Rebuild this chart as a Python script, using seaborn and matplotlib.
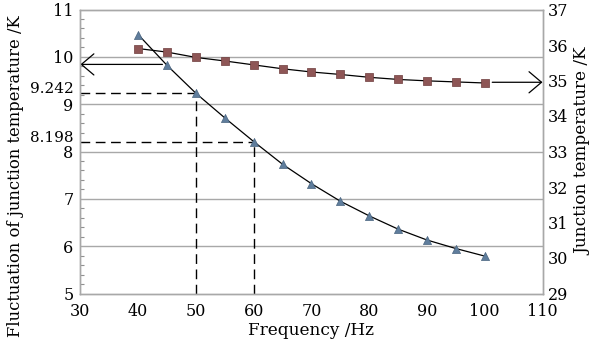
import numpy as np
import pandas as pd
import matplotlib
matplotlib.use("Agg")
import matplotlib.pyplot as plt
import seaborn as sns

freq = [40, 45, 50, 55, 60, 65, 70, 75, 80, 85, 90, 95, 100]
fluct = [10.47, 9.82, 9.23, 8.71, 8.21, 7.73, 7.32, 6.95, 6.64, 6.36, 6.13, 5.95, 5.79]
junction = [35.90, 35.80, 35.65, 35.55, 35.44, 35.33, 35.24, 35.17, 35.09, 35.03, 34.99, 34.96, 34.93]
left_ticks = [5, 6, 7, 8, 9, 10, 11]
right_ticks = [29, 30, 31, 32, 33, 34, 35, 36, 37]
x_ticks = [30, 40, 50, 60, 70, 80, 90, 100, 110]
marks_f = [50, 60]
marks_v = [9.242, 8.198]
mark_labels = ["9.242", "8.198"]

sns.set_theme(style="white")
plt.rcParams['font.family'] = ['DejaVu Serif']
plt.rcParams['mathtext.fontset'] = 'dejavuserif'

df = pd.DataFrame({"freq": freq, "fluct": fluct, "junction": junction})

fig = plt.figure(figsize=(6.09, 3.49), dpi=100)
ax = fig.add_axes([80.4/609, 1-293.5/349, (542.5-80.4)/609, (293.5-9.5)/349])
ax2 = ax.twinx()

grid_c = "#a8a8a8"
tri_c = "#5f7d9c"
sq_c = "#8e5656"

ax.set_xlim(30, 110)
ax.set_ylim(5, 11)
ax2.set_ylim(29, 37)

for v in [6, 7, 8, 9, 10]:
    ax.axhline(v, color=grid_c, lw=1.0, zorder=0)

# dashed guide lines
for f, v in zip(marks_f, marks_v):
    ax.plot([30, f], [v, v], color="black", lw=1.0, ls=(0, (7, 4)), zorder=1)
    ax.plot([f, f], [5, v], color="black", lw=1.0, ls=(0, (7, 4)), zorder=1)

sns.lineplot(data=df, x="freq", y="fluct", ax=ax, color="black", lw=0.9, zorder=2)
sns.scatterplot(data=df, x="freq", y="fluct", ax=ax, marker="^", s=34, color=tri_c,
                edgecolor="#4a6580", linewidth=0.5, zorder=3)
sns.lineplot(data=df, x="freq", y="junction", ax=ax2, color="black", lw=0.9, zorder=2)
sns.scatterplot(data=df, x="freq", y="junction", ax=ax2, marker="s", s=26, color=sq_c,
                edgecolor="#6e3c3c", linewidth=0.5, zorder=3)

# arrows
ax.annotate("", xy=(30, 9.84), xytext=(44.2, 9.84),
            arrowprops=dict(arrowstyle="->,head_length=0.45,head_width=0.38",
                            color="black", lw=0.9, mutation_scale=20, shrinkA=0, shrinkB=0),
            annotation_clip=False)
ax2.annotate("", xy=(110, 34.95), xytext=(101.3, 34.95),
             arrowprops=dict(arrowstyle="->,head_length=0.45,head_width=0.38",
                             color="black", lw=0.9, mutation_scale=20, shrinkA=0, shrinkB=0),
             annotation_clip=False)

# ticks
ax.set_xticks(x_ticks)
ax.set_xticklabels([str(t) for t in x_ticks])
ax.set_xticks(np.arange(35, 110, 10), minor=True)
ax.set_yticks(left_ticks + marks_v)
ax.set_yticklabels([str(t) for t in left_ticks] + mark_labels)
ax.set_yticks(np.arange(5, 11.01, 0.2), minor=True)
ax.tick_params(axis="both", which="both", direction="in", color="#909090", width=0.8,
               labelsize=11.5, labelcolor="black")
ax.tick_params(axis="x", which="major", length=5, pad=7)
ax.tick_params(axis="x", which="minor", length=5)
ax.tick_params(axis="y", which="major", length=0, pad=5)
ax.tick_params(axis="y", which="minor", length=3)
for lbl in ax.get_yticklabels():
    if lbl.get_text() in mark_labels:
        lbl.set_va("baseline")
        lbl.set_fontsize(11)

ax2.set_yticks(right_ticks)
ax2.set_yticklabels([str(t) for t in right_ticks])
ax2.tick_params(axis="y", length=0, pad=4, labelsize=11.5, labelcolor="black")

for a in (ax, ax2):
    for s in a.spines.values():
        s.set_color(grid_c)
        s.set_linewidth(1.0)

ax.set_xlabel("Frequency /Hz", fontsize=12.2, labelpad=1, color="black")
ax.set_ylabel("Fluctuation of junction temperature /K", fontsize=11.8, color="black")
ax.yaxis.set_label_coords(-0.122, 0.415)
ax2.set_ylabel("Junction temperature /K", fontsize=12.2, labelpad=4, color="black")

fig.savefig("out.png", dpi=100, facecolor="white")
